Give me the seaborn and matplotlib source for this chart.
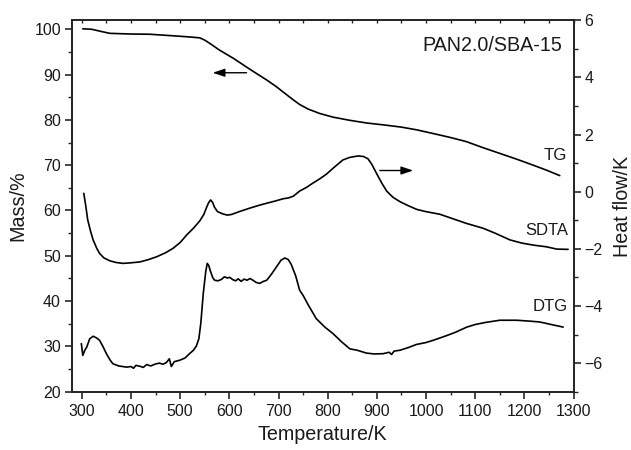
import matplotlib
matplotlib.use("Agg")
import matplotlib.pyplot as plt
import seaborn as sns
import pandas as pd
from matplotlib.ticker import MultipleLocator

# ---------------- data ----------------
tg_T = [302, 320, 340, 357, 400, 438, 480, 520, 540, 550, 560, 580, 608, 640, 676, 696,
        710, 729, 743, 760, 784, 811, 845, 880, 913, 950, 981, 1014, 1050, 1082, 1115,
        1150, 1185, 1218, 1245, 1272]
tg_mass = [100.1, 100.0, 99.5, 99.1, 98.95, 98.9, 98.6, 98.3, 98.1, 97.6, 96.9, 95.4, 93.6,
           91.3, 88.8, 87.3, 86.1, 84.5, 83.4, 82.4, 81.4, 80.6, 79.9, 79.3, 78.9, 78.4,
           77.8, 77.0, 76.1, 75.2, 73.9, 72.6, 71.3, 70.0, 68.9, 67.7]

sdta_T = [304, 308, 312, 318, 323, 330, 336, 345, 357, 370, 384, 400, 418, 435, 452, 470,
          485, 500, 513, 527, 540, 548, 553, 558, 562, 566, 570, 576, 587, 596, 604, 620,
          641, 660, 675, 695, 709, 720, 730, 743, 757, 770, 784, 798, 811, 822, 831, 845,
          862, 873, 882, 890, 899, 910, 920, 933, 947, 965, 981, 1000, 1028, 1055, 1082,
          1100, 1116, 1140, 1171, 1195, 1218, 1245, 1266, 1289]
sdta_hf = [-0.06, -0.5, -0.99, -1.40, -1.69, -1.97, -2.16, -2.32, -2.42, -2.48, -2.51, -2.49,
           -2.46, -2.38, -2.28, -2.14, -1.99, -1.78, -1.52, -1.28, -1.02, -0.80, -0.58, -0.38,
           -0.29, -0.38, -0.55, -0.70, -0.78, -0.82, -0.80, -0.70, -0.58, -0.48, -0.41, -0.32,
           -0.25, -0.22, -0.16, 0.02, 0.15, 0.30, 0.45, 0.62, 0.82, 0.98, 1.11, 1.20, 1.25,
           1.23, 1.15, 0.95, 0.65, 0.30, 0.02, -0.20, -0.35, -0.50, -0.62, -0.70, -0.79,
           -0.95, -1.11, -1.20, -1.28, -1.45, -1.69, -1.80, -1.87, -1.93, -2.01, -2.02]

dtg_T = [299, 302, 306, 310, 316, 323, 330, 336, 343, 350, 357, 363, 375, 391, 400, 405,
         410, 418, 425, 432, 440, 450, 458, 465, 472, 478, 482, 488, 499, 510, 519, 527,
         533, 538, 542, 547, 552, 555, 558, 561, 566, 570, 577, 584, 590, 596, 601, 607,
         613, 618, 624, 630, 636, 642, 648, 655, 662, 668, 676, 686, 696, 705, 713, 720,
         726, 735, 743, 750, 760, 777, 795, 811, 828, 845, 860, 879, 895, 913, 925, 930,
         935, 947, 965, 980, 1000, 1015, 1040, 1060, 1083, 1100, 1120, 1150, 1184, 1210,
         1231, 1255, 1279]
dtg_hf = [-5.32, -5.73, -5.55, -5.44, -5.15, -5.06, -5.12, -5.20, -5.42, -5.67, -5.88, -6.02,
          -6.10, -6.14, -6.12, -6.18, -6.08, -6.11, -6.15, -6.05, -6.10, -6.03, -6.00, -6.04,
          -5.98, -5.85, -6.12, -5.95, -5.90, -5.82, -5.67, -5.55, -5.40, -5.15, -4.60, -3.56,
          -2.80, -2.51, -2.58, -2.75, -3.00, -3.10, -3.12, -3.07, -2.98, -3.02, -3.00, -3.08,
          -3.12, -3.05, -3.14, -3.06, -3.10, -3.04, -3.10, -3.18, -3.21, -3.15, -3.10, -2.88,
          -2.63, -2.40, -2.32, -2.38, -2.55, -2.95, -3.45, -3.63, -3.95, -4.45, -4.75, -4.97,
          -5.25, -5.50, -5.55, -5.65, -5.68, -5.67, -5.62, -5.70, -5.58, -5.55, -5.45, -5.35,
          -5.28, -5.20, -5.05, -4.92, -4.74, -4.65, -4.58, -4.50, -4.50, -4.53, -4.56, -4.65,
          -4.74]

x_ticks = [300, 400, 500, 600, 700, 800, 900, 1000, 1100, 1200, 1300]
mass_ticks = [20, 30, 40, 50, 60, 70, 80, 90, 100]
hf_ticks = [-6, -4, -2, 0, 2, 4, 6]

# ---------------- plot ----------------
sns.set_theme(style="ticks")
plt.rcParams['font.family'] = ['Liberation Sans', 'DejaVu Sans']
FS = 11.5
LFS = 14.2
TXT = '#1a1a1a'

fig = plt.figure(figsize=(6.31, 4.5), dpi=100)
ax = fig.add_axes([0.1141, 0.1296, 0.7948, 0.8255])
ax2 = ax.twinx()

df_tg = pd.DataFrame({"T": tg_T, "v": tg_mass})
df_sd = pd.DataFrame({"T": sdta_T, "v": sdta_hf})
df_dt = pd.DataFrame({"T": dtg_T, "v": dtg_hf})

lw = 1.2
sns.lineplot(data=df_tg, x="T", y="v", ax=ax, color='black', lw=lw, sort=False)
sns.lineplot(data=df_sd, x="T", y="v", ax=ax2, color='black', lw=lw, sort=False)
sns.lineplot(data=df_dt, x="T", y="v", ax=ax2, color='black', lw=lw, sort=False)

ax.set_xlim(280, 1300)
ax.set_ylim(20, 102)
ax2.set_ylim(-7, 6)

ax.set_xticks(x_ticks)
ax.set_yticks(mass_ticks)
ax2.set_yticks(hf_ticks)
ax.xaxis.set_minor_locator(MultipleLocator(50))
ax.yaxis.set_minor_locator(MultipleLocator(5))
ax2.yaxis.set_minor_locator(MultipleLocator(1))
ax.set_yticklabels([str(v) for v in mass_ticks])
ax2.set_yticklabels([str(v).replace('-', '\u2212') for v in hf_ticks])

for a in (ax, ax2):
    for s in a.spines.values():
        s.set_linewidth(1.2)
        s.set_color('#222222')
        s.set_visible(True)

ax.tick_params(axis='x', which='major', direction='out', length=5, width=1.2,
               labelsize=FS, labelcolor=TXT, pad=4)
ax.tick_params(axis='x', which='minor', direction='out', length=2, width=1.0)
ax.tick_params(axis='x', which='both', top=True, labeltop=False)
ax.tick_params(axis='y', which='major', direction='out', length=5, width=1.2,
               labelsize=FS, labelcolor=TXT, pad=3)
ax.tick_params(axis='y', which='minor', direction='out', length=3, width=1.0)
ax2.tick_params(axis='y', which='major', direction='out', length=5, width=1.2,
                labelsize=FS, labelcolor=TXT, pad=3)
ax2.tick_params(axis='y', which='minor', direction='out', length=3, width=1.0)

# top small inward ticks every 50
for t in ax.xaxis.get_major_ticks() + ax.xaxis.get_minor_ticks():
    t.tick2line.set_markersize(2.5)
    t.tick2line.set_marker(3)  # TICKDOWN
    t.tick2line.set_markeredgewidth(1.0)

ax.set_xlabel("Temperature/K", fontsize=LFS, color=TXT, labelpad=4)
ax.set_ylabel("Mass/%", fontsize=LFS, color=TXT, labelpad=5)
ax2.set_ylabel("Heat flow/K", fontsize=LFS, color=TXT, labelpad=7)

ax.text(0.977, 0.933, "PAN2.0/SBA-15", transform=ax.transAxes, ha='right', va='center',
        fontsize=LFS, color=TXT)
ax.text(0.987, 0.637, "TG", transform=ax.transAxes, ha='right', va='center',
        fontsize=12.2, color=TXT)
ax.text(0.989, 0.435, "SDTA", transform=ax.transAxes, ha='right', va='center',
        fontsize=12, color=TXT)
ax.text(0.989, 0.229, "DTG", transform=ax.transAxes, ha='right', va='center',
        fontsize=12, color=TXT)

ax.annotate("", xy=(566, 90.4), xytext=(635, 90.4),
            arrowprops=dict(arrowstyle='-|>,head_length=0.6,head_width=0.2', color='black',
                            lw=1.0, mutation_scale=12, shrinkA=0, shrinkB=0))
ax2.annotate("", xy=(974, 0.74), xytext=(906, 0.74),
             arrowprops=dict(arrowstyle='-|>,head_length=0.6,head_width=0.2', color='black',
                             lw=1.0, mutation_scale=12, shrinkA=0, shrinkB=0))

ax.set_zorder(ax2.get_zorder() + 1)
ax.patch.set_visible(False)

fig.savefig("out.png", dpi=100)
